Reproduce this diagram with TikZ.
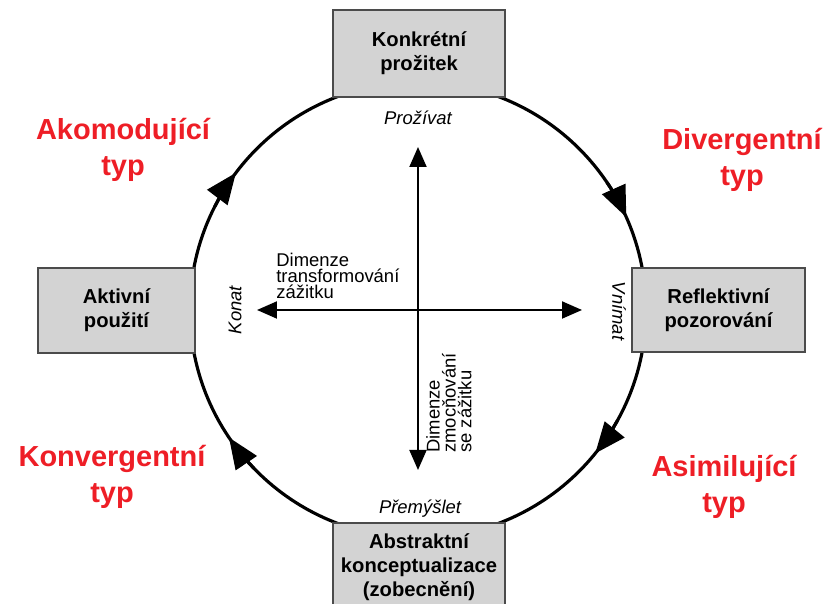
\documentclass[tikz,border=0pt]{standalone}
\usepackage{fontspec}
\setmainfont{Liberation Sans}
\usepackage{tikz}
\usetikzlibrary{arrows.meta,positioning}
\definecolor{typred}{RGB}{238,30,38}
\definecolor{boxgray}{RGB}{211,211,211}
\definecolor{boxedge}{RGB}{75,75,75}
\tikzset{
  stagebox/.style={rectangle, draw=boxedge, fill=boxgray, line width=1.1pt, inner sep=0pt, align=center, font=\fontsize{11.5}{13.7}\selectfont\bfseries},
  typlabel/.style={text=typred, align=center, font=\fontsize{16.5}{20.5}\selectfont\bfseries},
  polelabel/.style={inner sep=0pt, font=\fontsize{10.5}{12}\selectfont\itshape},
  dimlabel/.style={align=left, inner sep=0pt, font=\fontsize{10.5}{9}\selectfont},
  cycleline/.style={line width=1.8pt},
  cyclearrow/.style={line width=1.8pt, -{Triangle[length=0.62cm, width=0.5cm]}},
  axis/.style={line width=1.1pt, {Triangle[length=0.4cm, width=0.34cm]}-{Triangle[length=0.4cm, width=0.34cm]}},
}

\begin{document}
\begin{tikzpicture}[x=0.02cm, y=0.02cm]
  \useasboundingbox (0,0) rectangle (832,604);

  % Learning cycle
  \coordinate (hub) at (418,294);
  \draw[cycleline] (hub) circle (228);
  \foreach \tipangle in {143,24,-39,-146}
    \draw[cyclearrow] (hub) ++(\tipangle+10:228) arc (\tipangle+10:\tipangle:228);

  % Stages
  \node[stagebox, minimum width=3.44cm, minimum height=1.74cm] (concrete) at (419,550.5) {Konkrétní\\prožitek};
  \node[stagebox, minimum width=3.46cm, minimum height=1.68cm] (reflective) at (718.5,294) {Reflektivní\\pozorování};
  \node[stagebox, minimum width=3.44cm, minimum height=1.76cm] (abstract) at (419,37) {Abstraktní\\konceptualizace\\(zobecnění)};
  \node[stagebox, minimum width=3.14cm, minimum height=1.70cm] (active) at (116.5,293.5) {Aktivní\\použití};

  % Poles
  \node[polelabel] (feel) at (418,486) {Prožívat};
  \node[polelabel] (think) at (420,95) {Přemýšlet};
  \node[polelabel, rotate=90] (doing) at (235,294) {Konat};
  \node[polelabel, rotate=-90] (watch) at (619,293) {Vnímat};

  % Axes
  \coordinate (axtop) at (418,457);
  \coordinate (axbottom) at (418,134);
  \coordinate (axleft) at (257,294);
  \coordinate (axright) at (582,294);
  \draw[axis] (axtop) -- (axbottom);
  \draw[axis] (axleft) -- (axright);

  \node[dimlabel, anchor=north west] (transform) at (276,351) {Dimenze\\transformování\\zážitku};
  \node[dimlabel, rotate=90, anchor=north west] (grasp) at (426,151) {Dimenze\\zmocňování\\se zážitku};

  % Learning types
  \node[typlabel] (accom) at (123,454) {Akomodující\\typ};
  \node[typlabel] (diverg) at (742,444) {Divergentní\\typ};
  \node[typlabel] (converg) at (112,127) {Konvergentní\\typ};
  \node[typlabel] (assim) at (724,117) {Asimilující\\typ};

\end{tikzpicture}
\end{document}
